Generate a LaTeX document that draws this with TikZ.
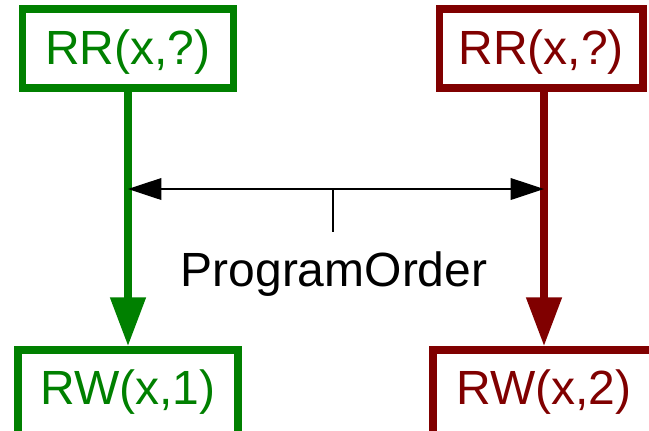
\documentclass[tikz,border=0pt]{standalone}
\usepackage{fontspec}
\setmainfont{Liberation Sans}
\usetikzlibrary{arrows.meta,calc}
\definecolor{opgreen}{RGB}{0,128,0}
\definecolor{opred}{RGB}{128,0,0}
\tikzset{
  opbox/.style={draw, line width=5.6pt, inner sep=0pt, rectangle,
    font=\fontsize{36pt}{43pt}\selectfont, text height=25.78pt},
  shaft/.style={line width=6pt, -{Triangle[length=36.75pt,width=25.5pt]}},
  order/.style={line width=0.8pt, {Triangle[length=25pt,width=16.3pt]}-{Triangle[length=25pt,width=16.3pt]}},
}
\begin{document}
\begin{tikzpicture}[x=0.75pt,y=-0.75pt]
  \useasboundingbox (0,0) rectangle (649,430);
  \clip (0,0) rectangle (649,430);

  % operation boxes
  \node[opbox, opgreen, minimum width=158.25pt, minimum height=59.25pt, text depth=2.1pt]
    (rrl) at (128,48.5) {RR(x,?)};
  \node[opbox, opred, minimum width=152.6pt, minimum height=59.25pt, text depth=2.1pt]
    (rrr) at (541.25,48.5) {RR(x,?)};
  \node[opbox, opgreen, minimum width=165pt, minimum height=67.5pt, text depth=11.85pt]
    (rwl) at (128,395) {RW(x,1)};
  \node[opbox, opred, minimum width=166.5pt, minimum height=67.5pt, text depth=11.85pt]
    (rwr) at (544,395) {RW(x,2)};

  % program order within each thread
  \draw[shaft, opgreen] (rrl.south) -- (rwl.north);
  \draw[shaft, opred] (rwr.north |- rrr.south) -- (rwr.north);

  % relation between the two threads
  \coordinate (mid) at (333,189);
  \coordinate (tick) at (333,232);
  \draw[order] (rwl.north |- mid) -- (rwr.north |- mid);
  \draw[line width=0.8pt] (mid) -- (tick);
  \node[font=\fontsize{36pt}{43pt}\selectfont, anchor=base, inner sep=0pt]
    (lbl) at (334,286) {ProgramOrder};
\end{tikzpicture}
\end{document}
